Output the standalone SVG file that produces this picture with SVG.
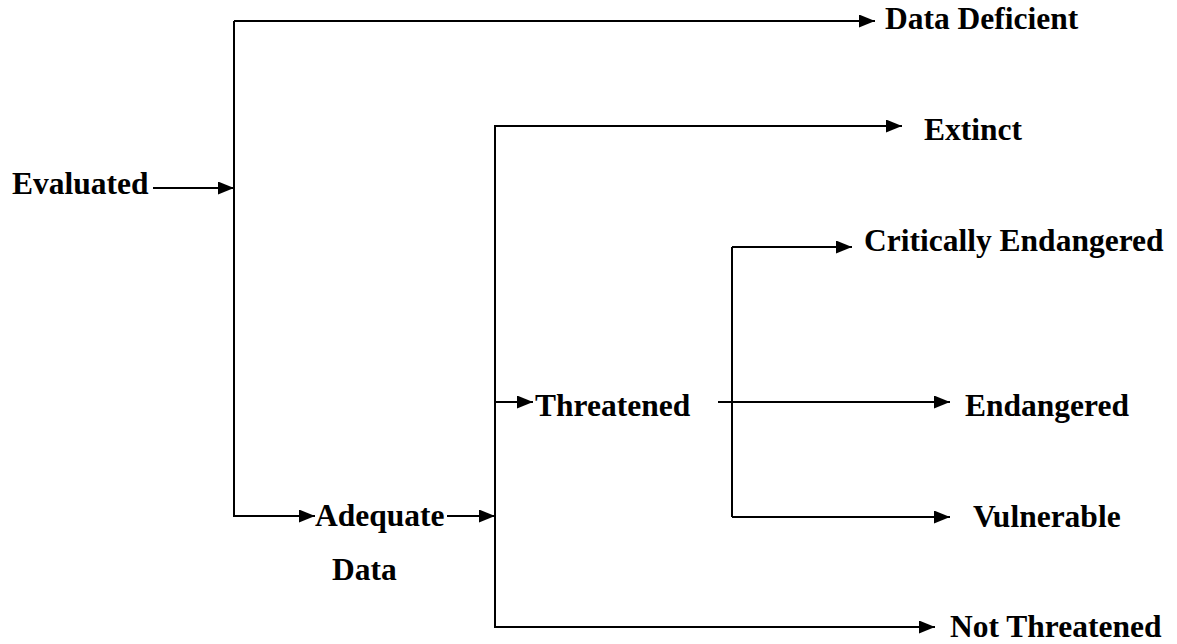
<svg xmlns="http://www.w3.org/2000/svg" width="1177" height="644" viewBox="0 0 1177 644">
<defs>
<marker id="arr" markerUnits="userSpaceOnUse" markerWidth="16" markerHeight="13" refX="16" refY="6.5" orient="auto">
<path d="M0,0 L16,6.5 L0,13 Z" fill="#000"/>
</marker>
<style>
.lbl{font-family:"Liberation Serif","Times New Roman",serif;font-weight:bold;font-size:31.5px;fill:#000}
.c{fill:none;stroke:#000;stroke-width:2}
.a{marker-end:url(#arr)}
</style>
</defs>
<rect width="1177" height="644" fill="#fff"/>
<g id="connectors">
<path class="c a" d="M153,188 H234"/>
<path class="c a" d="M234,21 V516 H315"/>
<path class="c a" d="M234,21 H875"/>
<path class="c a" d="M447,516 H495"/>
<path class="c" d="M495,125 V628"/>
<path class="c a" d="M495,126 H902"/>
<path class="c a" d="M495,402 H533"/>
<path class="c a" d="M495,627 H935"/>
<path class="c a" d="M718,402 H950"/>
<path class="c" d="M732,247 V517"/>
<path class="c a" d="M732,247 H852"/>
<path class="c a" d="M732,517 H950"/>
</g>
<g id="evaluated"><text class="lbl" x="12" y="194">Evaluated</text></g>
<g id="data-deficient"><text class="lbl" x="885" y="29">Data Deficient</text></g>
<g id="adequate-data"><text class="lbl" x="315" y="526">Adequate</text><text class="lbl" x="332" y="580">Data</text></g>
<g id="extinct"><text class="lbl" x="924" y="140">Extinct</text></g>
<g id="threatened"><text class="lbl" x="535" y="416">Threatened</text></g>
<g id="critically-endangered"><text class="lbl" x="864" y="251">Critically Endangered</text></g>
<g id="endangered"><text class="lbl" x="965" y="416">Endangered</text></g>
<g id="vulnerable"><text class="lbl" x="973" y="527">Vulnerable</text></g>
<g id="not-threatened"><text class="lbl" x="950" y="637">Not Threatened</text></g>
</svg>
